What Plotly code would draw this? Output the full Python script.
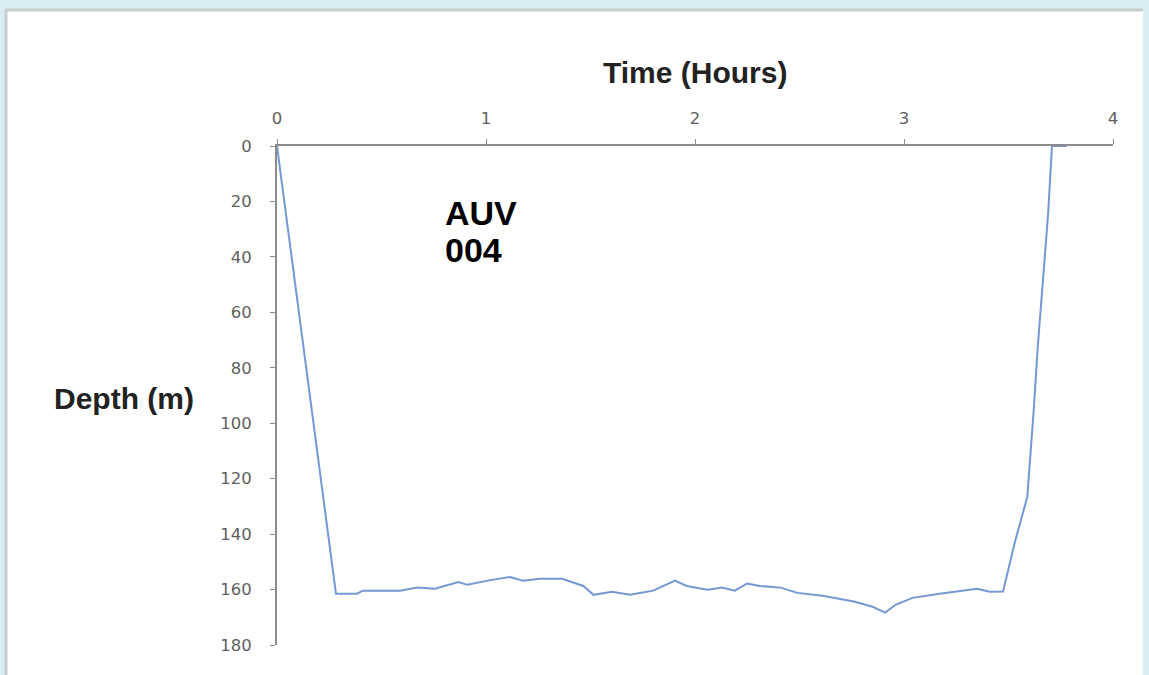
import plotly.graph_objects as go

# AUV 004 dive profile: elapsed time (hours) vs depth (m)
time_hours = [0.0, 0.282, 0.383, 0.41, 0.59, 0.67, 0.756, 0.868, 0.91, 1.02,
              1.115, 1.177, 1.258, 1.364, 1.466, 1.514, 1.603, 1.689, 1.80, 1.904,
              1.96, 2.06, 2.13, 2.19, 2.25, 2.31, 2.41, 2.49, 2.61, 2.76,
              2.85, 2.91, 2.96, 3.04, 3.17, 3.35, 3.41, 3.474, 3.53, 3.59,
              3.62, 3.64, 3.665, 3.69, 3.708, 3.78]
depth_m = [0, 161.5, 161.5, 160.4, 160.4, 159.3, 159.7, 157.3, 158.3, 156.6,
           155.5, 156.8, 156.1, 156.1, 158.7, 161.9, 160.8, 161.9, 160.4, 156.8,
           158.7, 160.1, 159.3, 160.4, 157.8, 158.7, 159.3, 161.2, 162.2, 164.3,
           166.2, 168.3, 165.5, 163.0, 161.5, 159.7, 160.8, 160.7, 143.0, 126.5,
           96.0, 72.4, 48.3, 24.0, 0, 0]

x_ticks = [0, 1, 2, 3, 4]
y_ticks = [0, 20, 40, 60, 80, 100, 120, 140, 160, 180]

W, H = 1149, 675
ML, MR, MT, MB = 277, 36, 146, 30
PW, PH = W - ML - MR, H - MT - MB


def px_x(p):
    return (p - ML) / PW


def px_y(p):
    return (H - MB - p) / PH


fig = go.Figure()
fig.add_trace(go.Scatter(
    x=time_hours, y=depth_m, mode="lines",
    line=dict(color="#7598d4", width=2),
    hoverinfo="skip", showlegend=False,
))

axis_font = dict(family="DejaVu Sans", size=16.5, color="#5f5f5f")

fig.update_layout(
    width=W, height=H,
    margin=dict(l=ML, r=MR, t=MT, b=MB),
    paper_bgcolor="#d9ecf3",
    plot_bgcolor="white",
    xaxis=dict(
        side="top", range=[0, 4], tickvals=x_ticks,
        showline=True, linecolor="#8c8c8c", linewidth=2,
        ticks="outside", ticklen=5, tickcolor="#8c8c8c", tickwidth=1,
        showgrid=False, zeroline=False, tickfont=axis_font,
        ticklabelstandoff=8,
    ),
    yaxis=dict(
        range=[180, 0], tickvals=y_ticks,
        showline=True, linecolor="#8c8c8c", linewidth=2,
        ticks="outside", ticklen=5, tickcolor="#8c8c8c", tickwidth=1,
        showgrid=False, zeroline=False, tickfont=axis_font,
        ticklabelstandoff=15,
    ),
    shapes=[
        # white card behind the chart
        dict(type="rect", xref="paper", yref="paper", layer="below",
             x0=px_x(5), x1=px_x(1143), y0=px_y(690), y1=px_y(10),
             fillcolor="white", line=dict(width=0)),
        dict(type="line", xref="paper", yref="paper", layer="below",
             x0=px_x(5), x1=px_x(1143), y0=px_y(10), y1=px_y(10),
             line=dict(color="#c9cccd", width=3)),
        dict(type="line", xref="paper", yref="paper", layer="below",
             x0=px_x(6), x1=px_x(6), y0=px_y(10), y1=px_y(690),
             line=dict(color="#c9cccd", width=3)),
    ],
    annotations=[
        dict(text="<b>Time (Hours)</b>", xref="paper", yref="paper",
             x=0.5, y=px_y(72), xanchor="center", yanchor="middle",
             showarrow=False,
             font=dict(family="Liberation Sans", size=30, color="#222222")),
        dict(text="<b>Depth (m)</b>", xref="paper", yref="paper",
             x=px_x(124), y=px_y(398), xanchor="center", yanchor="middle",
             showarrow=False,
             font=dict(family="Liberation Sans", size=30, color="#222222")),
        dict(text="<b>AUV</b>", xref="x", yref="y",
             x=0.795, y=24.1, xanchor="left", yanchor="middle",
             showarrow=False,
             font=dict(family="Liberation Sans", size=34, color="black")),
        dict(text="<b>004</b>", xref="x", yref="y",
             x=0.795, y=37.5, xanchor="left", yanchor="middle",
             showarrow=False,
             font=dict(family="Liberation Sans", size=34, color="black")),
    ],
)

fig.write_html("out.html")
